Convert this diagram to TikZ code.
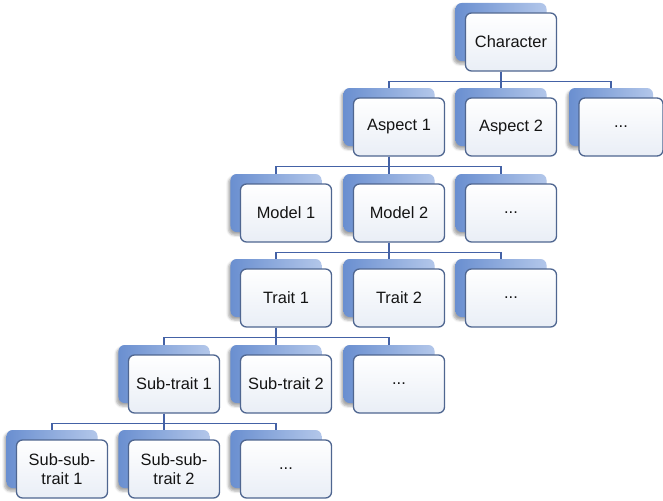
\documentclass[tikz,border=0pt]{standalone}
\usepackage{fontspec}
\setmainfont{Liberation Sans}
\usepackage{xcolor}
\usepackage{tikz}
\usetikzlibrary{positioning,shapes,shadows.blur}
\definecolor{busblue}{HTML}{4462A6}
\definecolor{edgegray}{HTML}{4F6690}
\definecolor{backdark}{HTML}{6A8FD0}
\definecolor{backlight}{HTML}{B3C7EA}
\definecolor{frontlight}{HTML}{E9EEF6}
\tikzstyle{back} = [rectangle, rounded corners=0.18cm, minimum width=2.73cm, minimum height=1.74cm, inner sep=0pt, left color=backdark, right color=backlight, blur shadow={shadow xshift=-0.6mm, shadow yshift=-0.9mm, shadow opacity=35}]
\tikzstyle{front} = [rectangle, rounded corners=0.18cm, draw=edgegray, line width=1.1pt, minimum width=2.73cm, minimum height=1.74cm, inner sep=0pt, top color=white, bottom color=frontlight, text=black!92, align=center, font=\fontsize{14}{16.5}\selectfont]
\tikzstyle{conn} = [draw=busblue, line width=1.3pt]

\begin{document}
\begin{tikzpicture}[x=0.03cm, y=-0.03cm]
        \useasboundingbox (0,0) rectangle (663,501);
        % Place nodes
        \node at (501, 32) [back] (char) {};
        \node at (511, 42) [front] (char-f) {Character};
        \node at (389, 117) [back] (asp1) {};
        \node at (399, 127) [front] (asp1-f) {Aspect 1};
        \node at (501, 117) [back] (asp2) {};
        \node at (511, 127) [front] (asp2-f) {Aspect 2};
        \node at (611, 117) [back, minimum width=2.52cm] (aspx) {};
        \node at (621, 127) [front, minimum width=2.52cm] (aspx-f) {...};
        \node at (276, 203) [back] (mod1) {};
        \node at (286, 213) [front] (mod1-f) {Model 1};
        \node at (389, 203) [back] (mod2) {};
        \node at (399, 213) [front] (mod2-f) {Model 2};
        \node at (501, 203) [back] (modx) {};
        \node at (511, 213) [front] (modx-f) {...};
        \node at (276, 288) [back] (tr1) {};
        \node at (286, 298) [front] (tr1-f) {Trait 1};
        \node at (389, 288) [back] (tr2) {};
        \node at (399, 298) [front] (tr2-f) {Trait 2};
        \node at (501, 288) [back] (trx) {};
        \node at (511, 298) [front] (trx-f) {...};
        \node at (164, 374) [back] (sub1) {};
        \node at (174, 384) [front] (sub1-f) {Sub-trait 1};
        \node at (276, 374) [back] (sub2) {};
        \node at (286, 384) [front] (sub2-f) {Sub-trait 2};
        \node at (389, 374) [back] (subx) {};
        \node at (399, 384) [front] (subx-f) {...};
        \node at (52, 459) [back] (ss1) {};
        \node at (62, 469) [front] (ss1-f) {Sub-sub-\\trait 1};
        \node at (164, 459) [back] (ss2) {};
        \node at (174, 469) [front] (ss2-f) {Sub-sub-\\trait 2};
        \node at (276, 459) [back] (ssx) {};
        \node at (286, 469) [front] (ssx-f) {...};

        % Draw edges
        \path [conn] (char.south |- char-f.south) -- ++(0,10) -| (asp1.north);
        \path [conn] (char.south |- char-f.south) -- ++(0,10) -| (asp2.north);
        \path [conn] (char.south |- char-f.south) -- ++(0,10) -| (aspx.north);
        \path [conn] (asp1.south |- asp1-f.south) -- ++(0,10) -| (mod1.north);
        \path [conn] (asp1.south |- asp1-f.south) -- ++(0,10) -| (mod2.north);
        \path [conn] (asp1.south |- asp1-f.south) -- ++(0,10) -| (modx.north);
        \path [conn] (mod2.south |- mod2-f.south) -- ++(0,10) -| (tr1.north);
        \path [conn] (mod2.south |- mod2-f.south) -- ++(0,10) -| (tr2.north);
        \path [conn] (mod2.south |- mod2-f.south) -- ++(0,10) -| (trx.north);
        \path [conn] (tr1.south |- tr1-f.south) -- ++(0,10) -| (sub1.north);
        \path [conn] (tr1.south |- tr1-f.south) -- ++(0,10) -| (sub2.north);
        \path [conn] (tr1.south |- tr1-f.south) -- ++(0,10) -| (subx.north);
        \path [conn] (sub1.south |- sub1-f.south) -- ++(0,10) -| (ss1.north);
        \path [conn] (sub1.south |- sub1-f.south) -- ++(0,10) -| (ss2.north);
        \path [conn] (sub1.south |- sub1-f.south) -- ++(0,10) -| (ssx.north);
\end{tikzpicture}
\end{document}
